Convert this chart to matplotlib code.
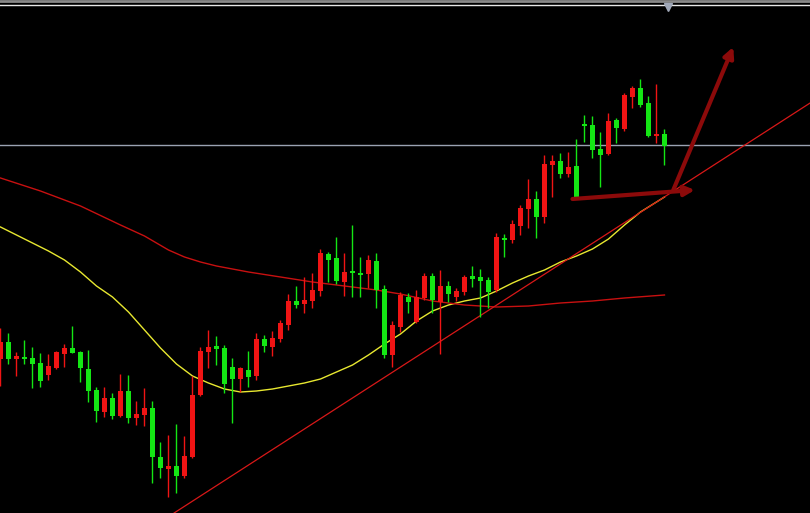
import numpy as np
import matplotlib
matplotlib.use('Agg')
import matplotlib.pyplot as plt

# price levels (screen rows, top = 0, so the axis is inverted)
opens = [359, 342, 359, 357, 358, 363, 375, 368, 354, 348,
         352, 369, 390, 412, 398, 416, 391, 418, 415, 408,
         457, 469, 466, 476, 457, 395, 352, 346, 348, 367,
         379, 370, 376, 339, 347, 339, 325, 301, 304, 301,
         291, 254, 258, 282, 271, 273, 274, 261, 289, 355,
         327, 297, 322, 298, 276, 302, 286, 297, 292, 276,
         277, 280, 290, 238, 240, 226, 209, 199, 217, 165,
         161, 174, 166, 124, 125, 149, 154, 120, 129, 97,
         88, 103, 136, 134]
highs = [328, 333, 352, 340, 347, 353, 354, 351, 344, 326,
         351, 350, 387, 387, 393, 374, 375, 401, 388, 401,
         442, 435, 424, 436, 376, 347, 330, 336, 345, 358,
         367, 351, 333, 335, 331, 320, 294, 286, 277, 273,
         249, 252, 237, 253, 225, 257, 255, 253, 285, 321,
         292, 293, 290, 273, 273, 270, 281, 288, 275, 266,
         269, 277, 233, 234, 220, 205, 179, 191, 155, 155,
         153, 152, 139, 115, 116, 132, 113, 118, 93, 86,
         79, 96, 84, 129]
lows = [386, 364, 376, 364, 388, 387, 380, 369, 367, 353,
        382, 402, 422, 417, 419, 417, 423, 425, 426, 483,
        478, 497, 493, 478, 458, 396, 368, 365, 393, 423,
        392, 387, 380, 352, 356, 342, 330, 308, 313, 308,
        296, 282, 284, 296, 297, 297, 288, 308, 358, 367,
        332, 313, 323, 300, 313, 354, 302, 301, 295, 287,
        317, 308, 292, 257, 243, 235, 228, 238, 223, 197,
        178, 177, 199, 142, 158, 187, 155, 143, 131, 108,
        107, 137, 143, 165]
closes = [342, 359, 356, 359, 364, 381, 366, 352, 348, 353,
          368, 391, 411, 398, 416, 391, 418, 414, 408, 457,
          468, 466, 476, 456, 395, 351, 347, 349, 384, 379,
          368, 377, 339, 346, 338, 323, 301, 305, 300, 290,
          253, 260, 281, 272, 273, 275, 260, 290, 355, 325,
          295, 302, 297, 276, 300, 286, 294, 291, 277, 279,
          281, 292, 237, 240, 224, 208, 199, 217, 164, 161,
          174, 167, 198, 126, 150, 155, 121, 128, 95, 88,
          105, 136, 134, 146]

# moving averages, sampled at candle indices
ma_fast_idx = [0, 2, 4, 6, 8, 10, 12, 14, 16, 18, 20, 22, 24, 26, 28, 30, 32, 34, 36,
               38, 40, 42, 44, 46, 48, 50, 52, 54, 56, 58, 60, 62, 64, 66, 68, 70,
               72, 74, 76, 78, 80, 82, 83]
ma_fast = [227, 235, 243, 251, 260, 272, 286, 297, 312, 330, 348, 364, 376, 383, 389,
           392, 391, 389, 386, 383, 379, 372, 365, 355, 344, 334, 321, 311, 305, 301,
           298, 291, 283, 276, 270, 262, 256, 249, 239, 225, 212, 202, 197]
ma_slow_idx = [0, 5, 10, 15, 18, 21, 23, 25, 27, 31, 35, 39, 43, 47, 50, 54, 58, 62,
               66, 70, 74, 78, 83]
ma_slow = [178, 191, 206, 225, 236, 250, 257, 262, 266, 272, 277, 282, 286, 290, 294,
           301, 305, 307, 306, 303, 301, 298, 295]

# drawn objects
trend_idx = [21.7, 101.2]
trend_lvl = [513, 103]
level_line = 145
arrows = [((71.5, 199), (86.8, 190)), ((84.1, 190), (91.6, 47))]

up_col = '#f01414'
down_col = '#14e614'

fig = plt.figure(figsize=(8.1, 5.13), dpi=100, facecolor='black')
ax = fig.add_axes([0, 0, 1, 1])
ax.set_facecolor('black')

x = np.arange(len(opens))
o = np.array(opens, dtype=float)
c = np.array(closes, dtype=float)
cols = [up_col if cc <= oo else down_col for oo, cc in zip(o, c)]

# wicks
ax.vlines(x, highs, lows, colors=cols, linewidth=1, zorder=3)
# bodies
bottom = np.minimum(o, c)
height = np.maximum(np.abs(c - o), 1.2)
ax.bar(x, height, bottom=bottom, width=0.66, color=cols, linewidth=0, zorder=4)

ax.plot(ma_fast_idx, ma_fast, color='#e8e830', linewidth=1, zorder=2)
ax.plot(ma_slow_idx, ma_slow, color='#c81010', linewidth=1, zorder=2)
ax.plot(trend_idx, trend_lvl, color='#d81818', linewidth=0.9, zorder=2)

ax.axhline(level_line, color='#9aa2b2', linewidth=1, zorder=1)
ax.axhline(1, color='#8a8a8a', linewidth=2, zorder=1)
ax.axhline(4.5, color='#e8e8e8', linewidth=1, zorder=1)
ax.plot([83.4], [6.5], marker='v', markersize=6, color='#a0a8b8', linestyle='none')

for start, end in arrows:
    ax.annotate('', xy=end, xytext=start,
                arrowprops=dict(arrowstyle='-|>', color='#8c0a0a', lw=3,
                                mutation_scale=15, shrinkA=0, shrinkB=0),
                zorder=5)

ax.set_xlim(-0.0625, 101.19)
ax.set_ylim(513, 0)
ax.axis('off')

fig.savefig('out.png', dpi=100, facecolor='black')
